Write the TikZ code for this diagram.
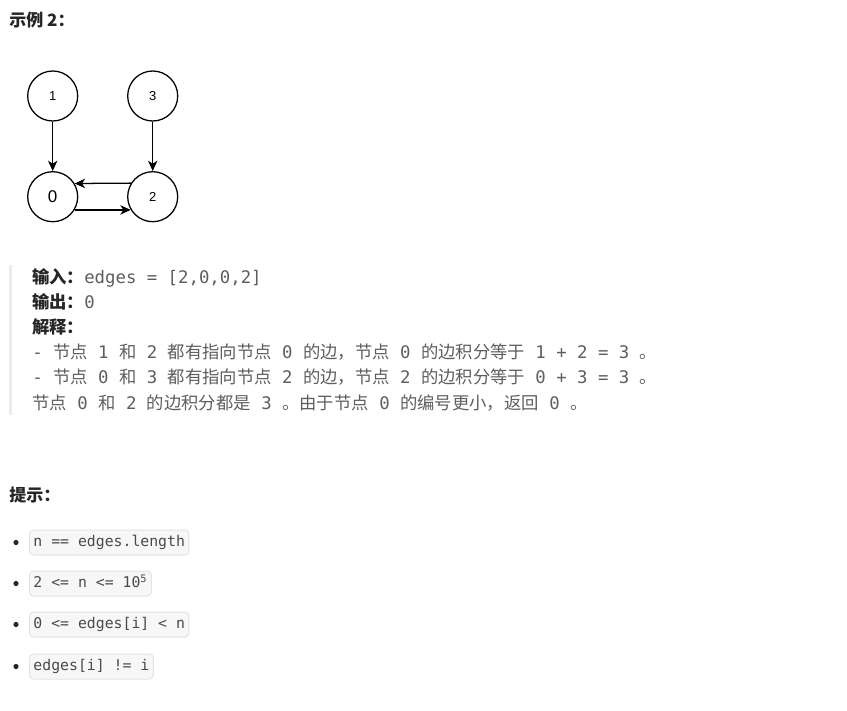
\documentclass[tikz,border=0pt]{standalone}
\usepackage{fontspec}
\setmainfont{Liberation Sans}
\setmonofont{DejaVu Sans Mono}
\newfontfamily\cjk{Noto Sans CJK SC}
\newfontfamily\arial{Liberation Sans}
\usetikzlibrary{arrows.meta}
\definecolor{ink}{HTML}{262626}
\definecolor{grayt}{HTML}{5E5E5E}
\definecolor{codet}{HTML}{4A4A4A}
\definecolor{codebg}{HTML}{F7F7F8}
\definecolor{codebd}{HTML}{E4E4E4}
\definecolor{barc}{HTML}{EBEBEB}
\newcommand\C[1]{{\cjk #1}}
\newcommand\B[1]{{\cjk\bfseries\color{ink}#1}}
\tikzset{
  vert/.style={circle, draw=black, line width=0.95pt, minimum size=37.5pt, inner sep=0pt, font=\arial\fontsize{9.75pt}{11pt}\selectfont},
  edgearrow/.style={-{Stealth[length=7.8pt,width=7pt,inset=2.3pt]}, line width=0.95pt, black},
  qline/.style={anchor=base west, inner sep=0pt, text=grayt, font=\ttfamily\fontsize{13pt}{15pt}\selectfont},
  heading/.style={anchor=base west, inner sep=0pt, text=ink, font=\cjk\bfseries\fontsize{12.75pt}{15pt}\selectfont},
  codebox/.style={anchor=west, inner xsep=3pt, inner ysep=0pt, minimum height=18.75pt, text height=8.2pt, text depth=2.3pt, rounded corners=3pt, fill=codebg, draw=codebd, line width=0.75pt, text=codet, font=\ttfamily\fontsize{11.1pt}{13pt}\selectfont},
  bul/.style={circle, fill=ink, inner sep=0pt, minimum size=3.9pt}
}
\begin{document}
\begin{tikzpicture}[x=0.75pt,y=-0.75pt]
\useasboundingbox (0,0) rectangle (847,711);
\fill[white] (0,0) rectangle (847,711);
% title
\node[heading] (title) at (9,26) {示例 2：};
% graph
\node[vert] (n1) at (52.7,96) {1};
\node[vert] (n3) at (152.7,96) {3};
\node[vert, font=\arial\fontsize{12.75pt}{14pt}\selectfont] (n0) at (52.7,196.7) {0};
\node[vert] (n2) at (152.7,196.7) {2};
\draw[edgearrow] (n1) -- (n0);
\draw[edgearrow] (n3) -- (n2);
\draw[edgearrow] (n2.148.7) -- (n0.31.3);
\draw[edgearrow] (n0.-31.3) -- (n2.211.3);
% blockquote
\fill[barc] (9,265) rectangle (12,415);
\node[qline] (l1) at (32,283) {\B{输入：}edges = [2,0,0,2]};
\node[qline] (l2) at (32,308.2) {\B{输出：}0};
\node[qline] (l3) at (32,333.4) {\B{解释：}};
\node[qline] (l4) at (32,358.6) {- \C{节点} 1 \C{和} 2 \C{都有指向节点} 0 \C{的边，节点} 0 \C{的边积分等于} 1 + 2 = 3 \C{。}};
\node[qline] (l5) at (32,383.8) {- \C{节点} 0 \C{和} 3 \C{都有指向节点} 2 \C{的边，节点} 2 \C{的边积分等于} 0 + 3 = 3 \C{。}};
\node[qline] (l6) at (32,409) {\C{节点} 0 \C{和} 2 \C{的边积分都是} 3 \C{。由于节点} 0 \C{的编号更小，返回} 0 \C{。}};
% hints
\node[heading] (hint) at (9,501) {提示：};
\node[bul] (b1) at (16,542.5) {};
\node[bul] (b2) at (16,583.5) {};
\node[bul] (b3) at (16,624.5) {};
\node[bul] (b4) at (16,666.5) {};
\node[codebox] (c1) at (29,542.5) {n == edges.length};
\node[codebox] (c2) at (29,583.5) {2 <= n <= 10\textsuperscript{5}};
\node[codebox] (c3) at (29,624.5) {0 <= edges[i] < n};
\node[codebox] (c4) at (29,666.5) {edges[i] != i};
\end{tikzpicture}
\end{document}
